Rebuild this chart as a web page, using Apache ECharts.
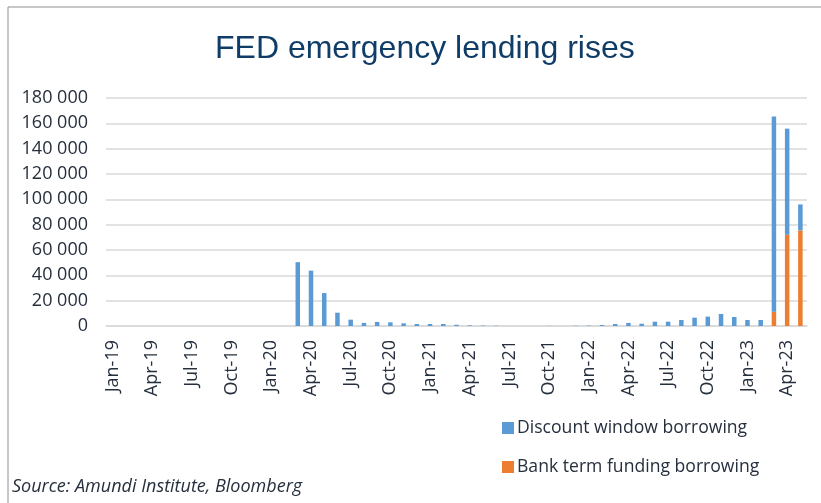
<!DOCTYPE html>
<html>
<head>
<meta charset="utf-8">
<script src="https://cdn.jsdelivr.net/npm/echarts@6/dist/echarts.min.js"></script>
<style>html,body{margin:0;padding:0;background:#fff;}#c{width:821px;height:503px;}</style>
</head>
<body>
<div id="c"></div>
<script>
var categories = ["Jan-19","Feb-19","Mar-19","Apr-19","May-19","Jun-19","Jul-19","Aug-19","Sep-19","Oct-19","Nov-19","Dec-19",
"Jan-20","Feb-20","Mar-20","Apr-20","May-20","Jun-20","Jul-20","Aug-20","Sep-20","Oct-20","Nov-20","Dec-20",
"Jan-21","Feb-21","Mar-21","Apr-21","May-21","Jun-21","Jul-21","Aug-21","Sep-21","Oct-21","Nov-21","Dec-21",
"Jan-22","Feb-22","Mar-22","Apr-22","May-22","Jun-22","Jul-22","Aug-22","Sep-22","Oct-22","Nov-22","Dec-22",
"Jan-23","Feb-23","Mar-23","Apr-23","May-23"];
var discountWindow = [0,0,0,0,0,0,0,0,0,0,0,0,
0,0,50400,43700,26000,10500,5000,2400,3200,2900,2100,1600,
1600,1600,1000,500,300,200,0,0,0,100,0,200,
300,800,1600,2400,1800,3400,3400,4750,6600,7400,9500,7100,
4750,4750,154000,83800,20500];
var bankTermFunding = [0,0,0,0,0,0,0,0,0,0,0,0,
0,0,0,0,0,0,0,0,0,0,0,0,
0,0,0,0,0,0,0,0,0,0,0,0,
0,0,0,0,0,0,0,0,0,0,0,0,
0,0,11300,72000,75500];
var yTicks = [0,20000,40000,60000,80000,100000,120000,140000,160000,180000];

var chart = echarts.init(document.getElementById('c'), null, {renderer:'canvas'});
var txt = '#262f3d';
chart.setOption({
  animation:false,
  backgroundColor:'#fff',
  title:{text:'FED emergency lending rises',left:210,top:28,
    textStyle:{fontFamily:'Liberation Sans',fontSize:32,fontWeight:'normal',color:'#0f3d68'}},
  graphic:[
    {type:'rect',shape:{x:8,y:7,width:900,height:600},style:{fill:'none',stroke:'#8f8f8f',lineWidth:1}},
    {type:'text',left:12,top:478,style:{text:'Source: Amundi Institute, Bloomberg',fontFamily:'Open Sans',fontStyle:'italic',fontSize:18,fill:txt}}
  ],
  legend:{orient:'vertical',left:497,top:414,itemWidth:12,itemHeight:12,itemGap:21,
    data:['Discount window borrowing','Bank term funding borrowing'],
    textStyle:{fontFamily:'Open Sans',fontSize:17.6,color:txt,padding:[0,0,0,-2]},icon:'rect'},
  grid:{left:106,right:14,top:98,bottom:177},
  xAxis:{type:'category',data:categories,boundaryGap:true,
    axisLine:{lineStyle:{color:'#d9d9d9',width:1.5}},
    axisTick:{interval:2,length:6,lineStyle:{color:'#d9d9d9',width:1.5}},
    axisLabel:{interval:2,rotate:90,margin:14,fontFamily:'Open Sans',fontSize:18,color:txt}},
  yAxis:{type:'value',min:yTicks[0],max:yTicks[yTicks.length-1],interval:20000,
    axisLine:{show:false},axisTick:{show:false},
    splitLine:{lineStyle:{color:'#d9d9d9',width:1.5}},
    axisLabel:{margin:18,fontFamily:'Open Sans',fontSize:18,color:txt,
      formatter:function(v){return v===0?'0':String(v).replace(/\B(?=(\d{3})+(?!\d))/g,' ');}}},
  series:[
    {name:'Bank term funding borrowing',type:'bar',stack:'s',data:bankTermFunding,barWidth:4.5,itemStyle:{color:'#ed7d31'}},
    {name:'Discount window borrowing',type:'bar',stack:'s',data:discountWindow,barWidth:4.5,itemStyle:{color:'#5b9bd5'}}
  ]
});
</script>
</body>
</html>
